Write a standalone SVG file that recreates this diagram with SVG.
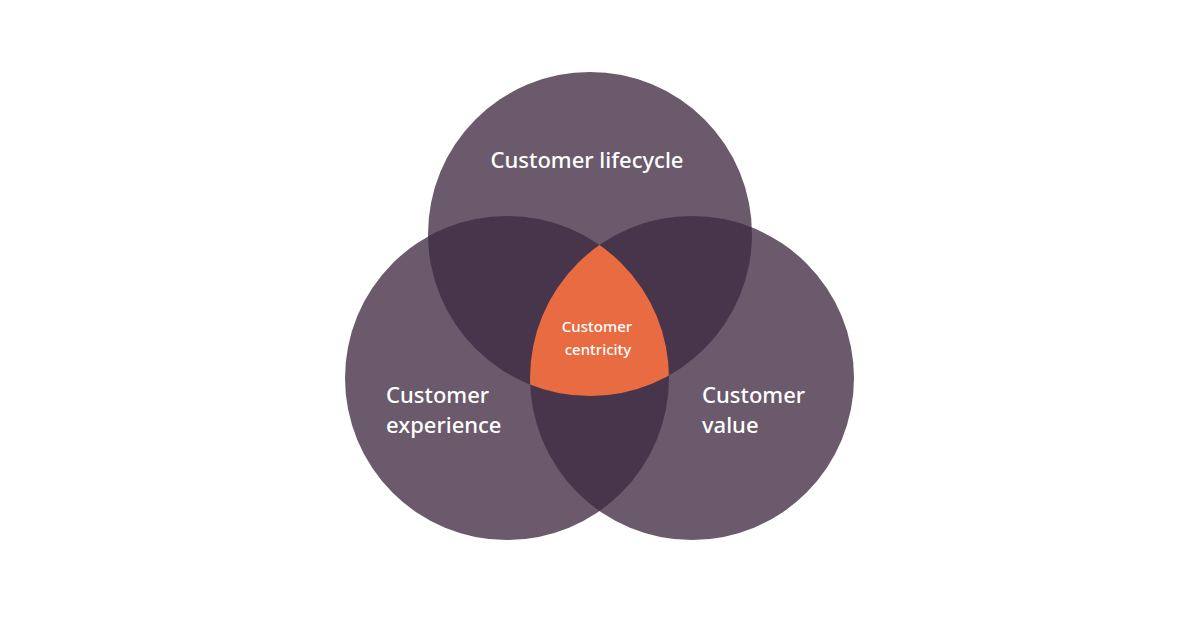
<svg xmlns="http://www.w3.org/2000/svg" width="1200" height="621" viewBox="0 0 1200 621">
<style>
.c{fill:#6a5a6b}.d{fill:#47354b}.o{fill:#e96b41}
text{font-family:"Noto Sans","Liberation Sans",sans-serif;fill:#fff;font-weight:500}
.l{font-size:22px}.s{font-size:15px}
</style>
<defs>
<clipPath id="cT"><circle cx="590" cy="234" r="162"/></clipPath>
<clipPath id="cL"><circle cx="507" cy="378" r="162"/></clipPath>
<clipPath id="cR"><circle cx="692" cy="378" r="162"/></clipPath>
</defs>
<rect width="1200" height="621" fill="#fff"/>
<g id="top"><circle class="c" cx="590" cy="234" r="162"/></g>
<g id="left"><circle class="c" cx="507" cy="378" r="162"/></g>
<g id="right"><circle class="c" cx="692" cy="378" r="162"/></g>
<g id="overlaps">
<g clip-path="url(#cT)"><circle class="d" cx="507" cy="378" r="162"/><circle class="d" cx="692" cy="378" r="162"/></g>
<g clip-path="url(#cL)"><circle class="d" cx="692" cy="378" r="162"/></g>
<g id="center" clip-path="url(#cT)"><g clip-path="url(#cL)"><circle class="o" cx="692" cy="378" r="162"/></g></g>
</g>
<g id="labels">
<text class="l" x="587" y="168" text-anchor="middle">Customer lifecycle</text>
<text class="l" x="386" y="403">Customer</text>
<text class="l" x="386" y="433">experience</text>
<text class="l" x="702" y="403">Customer</text>
<text class="l" x="702" y="433">value</text>
<text class="s" x="597" y="332" text-anchor="middle">Customer</text>
<text class="s" x="598" y="355" text-anchor="middle">centricity</text>
</g>
</svg>
